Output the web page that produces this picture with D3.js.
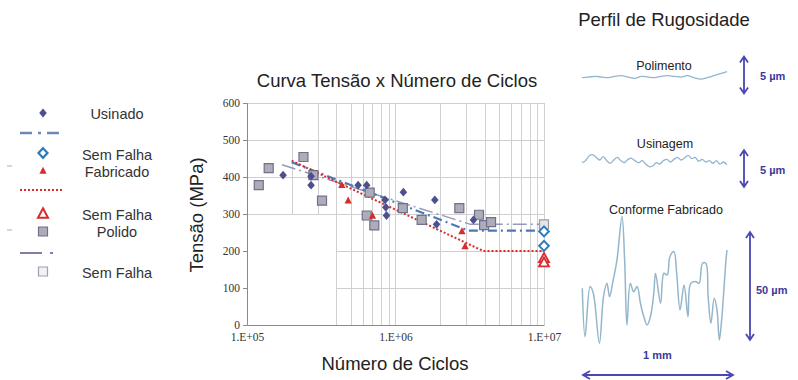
<!DOCTYPE html>
<html>
<head>
<meta charset="utf-8">
<script src="https://cdn.jsdelivr.net/npm/d3@7"></script>
<style>
  body { margin: 0; background: #fff; }
  svg { display: block; }
</style>
</head>
<body>
<svg id="fig" width="798" height="380"></svg>
<script>
// ---- S-N data (ciclos, MPa) ----
const usinadoN = [1.75e5, 2.7e5, 2.7e5, 5.6e5, 6.4e5, 8.5e5, 8.6e5, 8.7e5, 1.13e6, 1.84e6, 1.89e6, 3.35e6];
const usinadoS = [405, 402, 378, 378, 378, 338, 318, 296, 359, 338, 272, 284];

const polidoN = [1.2e5, 1.4e5, 2.4e5, 2.8e5, 3.2e5, 6.7e5, 6.4e5, 7.2e5, 1.12e6, 1.5e6, 2.69e6, 3.65e6, 3.95e6, 4.4e6];
const polidoS = [378, 424, 454, 405, 336, 358, 296, 269, 316, 284, 316, 298, 270, 278];

const fabricadoN = [4.35e5, 4.8e5, 7.0e5, 2.8e6, 2.94e6];
const fabricadoS = [378, 336, 295, 253, 212];

// run-outs (sem falha) at 1E+07
const semFalhaUsinadoN = [1e7, 1e7];
const semFalhaUsinadoS = [253, 214];
const semFalhaFabricadoN = [1e7, 1e7];
const semFalhaFabricadoS = [180, 168];
const semFalhaPolidoN = [1e7];
const semFalhaPolidoS = [272];

// fitted S-N curves with endurance plateau
const fitUsinadoN = [2.0e5, 3.1e6, 1e7];
const fitUsinadoS = [440, 255, 255];
const fitPolidoN = [1.72e5, 3.2e6, 1e7];
const fitPolidoS = [433, 272, 272];
const fitFabricadoN = [2.0e5, 3.9e6, 1e7];
const fitFabricadoS = [444, 200, 200];

const yTicks = [0, 100, 200, 300, 400, 500, 600];
const xTicks = [1e5, 1e6, 1e7];
const xTickLabels = ["1.E+05", "1.E+06", "1.E+07"];

// ---- roughness profiles ----
// Polimento / Usinagem: heights (µm) sampled evenly across 1 mm
const polimentoZ = [-0.23, -0.14, -0.05, -0.14, -0.23, -0.05, 0.04, -0.14, -0.32, -0.05, -0.14, -0.23,
                    -0.05, 0.04, -0.05, -0.14, 0.04, -0.23, -0.41, -0.23, 0.04, 0.32, 0.59];
const usinagemZ = [-0.36, -0.09, 0.54, 0.72, 0.36, 0.0, 0.45, -0.09, -0.45, 0.0, 0.36, -0.09, -0.36, 0.09,
                   0.23, -0.09, -0.36, -0.09, -0.54, -0.9, -0.81, -0.36, -0.54, -0.09, 0.09, -0.27, 0.09,
                   0.36, 0.0, 0.27, 0.63, 0.18, 0.36, -0.18, 0.09, -0.27, -0.09, -0.45, -0.09, -0.54, -0.27, -0.63];
// Conforme fabricado: position (mm) and height (µm)
const fabricadoX = [0.002, 0.021, 0.056, 0.078, 0.120, 0.148, 0.172, 0.190, 0.213, 0.241, 0.276, 0.294, 0.310,
                    0.333, 0.356, 0.380, 0.403, 0.426, 0.449, 0.472, 0.495, 0.507, 0.542, 0.565, 0.588, 0.606,
                    0.634, 0.653, 0.676, 0.704, 0.731, 0.750, 0.785, 0.808, 0.831, 0.854, 0.870, 0.889, 0.912,
                    0.931, 0.947, 0.963, 0.993, 1.0];
const fabricadoZ = [5.4, -17.0, 6.2, 3.1, -20.0, 1.5, 7.7, 1.5, 8.5, 18.5, 38.6, 18.5, -11.6,
                   7.7, 3.8, 6.2, -1.5, -7.7, -11.6, -7.7, 3.1, 12.4, -1.5, 12.4, 11.6, 20.0,
                   22.4, 12.4, -4.6, 6.9, -7.7, 7.7, 8.5, 7.7, 17.0, 17.0, 1.5, -10.8, 0.8,
                   -4.6, -18.5, -9.3, 18.5, 23.1];

const legendItems = ["Usinado", "Sem Falha", "Fabricado", "Sem Falha", "Polido", "Sem Falha"];

// ---- styles ----
const C = {
  usinado: "#4e4f8f",
  usinadoLine: "#4a7ab5",
  semFalhaUsinado: "#2b7bbd",
  fabricado: "#d92b2b",
  polidoFill: "#adadba",
  polidoStroke: "#70708a",
  polidoLine: "#7e7ea8",
  grid: "#d0d0d0",
  axis: "#8a8a8a",
  text: "#333",
  profile: "#93b6cd",
  arrow: "#4b46b4"
};
const SANS = "'Liberation Sans', Arial, sans-serif";
const SERIF = "'Liberation Serif', 'Times New Roman', serif";

const svg = d3.select("#fig");

// marker shapes
const diamondPath = (w, h) => `M0,${-h}L${w},0L0,${h}L${-w},0Z`;
const trianglePath = (w, h) => `M0,${-h * 0.6}L${w},${h * 0.4}L${-w},${h * 0.4}Z`;
const squarePath = s => `M${-s},${-s}H${s}V${s}H${-s}Z`;

// ---- chart ----
const x = d3.scaleLog().domain([1e5, 1e7]).range([247, 544]);
const y = d3.scaleLinear().domain([0, 600]).range([325, 103]);

const chart = svg.append("g");

// grid: lower-left corner (N < 4E+05, S < 300) left clear
const grid = chart.append("g").attr("stroke", C.grid).attr("stroke-width", 1);
x.ticks().filter(n => n > 1e5).forEach(n => {
  const bottom = n < 4e5 ? y(300) : y(0);
  grid.append("line")
    .attr("x1", Math.round(x(n)) + 0.5).attr("x2", Math.round(x(n)) + 0.5)
    .attr("y1", y(600)).attr("y2", bottom);
});
yTicks.filter(s => s > 0).forEach(s => {
  const left = s < 300 ? x(4e5) : x(1e5);
  grid.append("line")
    .attr("x1", left).attr("x2", x(1e7))
    .attr("y1", Math.round(y(s)) + 0.5).attr("y2", Math.round(y(s)) + 0.5);
});

// axes
const yAxis = chart.append("g")
  .attr("transform", `translate(${x(1e5)},0)`)
  .call(d3.axisLeft(y).tickValues(yTicks).tickSize(4).tickPadding(3).tickFormat(d3.format("d")));
const xAxis = chart.append("g")
  .attr("transform", `translate(0,${y(0)})`)
  .call(d3.axisBottom(x).tickValues(xTicks).tickSize(0).tickPadding(8)
    .tickFormat((d, i) => xTickLabels[i]));
[yAxis, xAxis].forEach(a => {
  a.selectAll("path, line").attr("stroke", C.axis);
  a.selectAll("text").attr("font-family", SERIF).attr("font-size", 11.5).attr("fill", C.text);
});

// fitted curves
const line = d3.line().x(d => x(d[0])).y(d => y(d[1]));
const zip = (a, b) => a.map((v, i) => [v, b[i]]);
chart.append("path").datum(zip(fitPolidoN, fitPolidoS))
  .attr("d", line).attr("fill", "none").attr("stroke", C.polidoLine)
  .attr("stroke-width", 1.5).attr("stroke-dasharray", "14,4,2,4").attr("opacity", 0.8);
chart.append("path").datum(zip(fitUsinadoN, fitUsinadoS))
  .attr("d", line).attr("fill", "none").attr("stroke", C.usinadoLine)
  .attr("stroke-width", 2.2).attr("stroke-dasharray", "9,4,2,4");
chart.append("path").datum(zip(fitFabricadoN, fitFabricadoS))
  .attr("d", line).attr("fill", "none").attr("stroke", C.fabricado)
  .attr("stroke-width", 2).attr("stroke-dasharray", "2,2");

// points
const pts = chart.append("g");
pts.selectAll(".sq").data(zip(polidoN, polidoS)).join("path")
  .attr("transform", d => `translate(${x(d[0])},${y(d[1])})`)
  .attr("d", squarePath(4.5)).attr("fill", C.polidoFill)
  .attr("stroke", C.polidoStroke).attr("stroke-width", 1.2);
pts.selectAll(".sf").data(zip(semFalhaPolidoN, semFalhaPolidoS)).join("path")
  .attr("transform", d => `translate(${x(d[0])},${y(d[1])})`)
  .attr("d", squarePath(4.5)).attr("fill", "#e4e4ea")
  .attr("stroke", "#9a9aa8").attr("stroke-width", 1.2);
pts.selectAll(".dm").data(zip(usinadoN, usinadoS)).join("path")
  .attr("transform", d => `translate(${x(d[0])},${y(d[1])})`)
  .attr("d", diamondPath(3.8, 4.4)).attr("fill", C.usinado);
pts.selectAll(".tr").data(zip(fabricadoN, fabricadoS)).join("path")
  .attr("transform", d => `translate(${x(d[0])},${y(d[1])})`)
  .attr("d", trianglePath(3.6, 7)).attr("fill", C.fabricado);
pts.selectAll(".sd").data(zip(semFalhaUsinadoN, semFalhaUsinadoS)).join("path")
  .attr("transform", d => `translate(${x(d[0])},${y(d[1])})`)
  .attr("d", diamondPath(4.8, 5)).attr("fill", "#fff")
  .attr("stroke", C.semFalhaUsinado).attr("stroke-width", 2);
pts.selectAll(".st").data(zip(semFalhaFabricadoN, semFalhaFabricadoS)).join("path")
  .attr("transform", d => `translate(${x(d[0])},${y(d[1])})`)
  .attr("d", trianglePath(5, 9)).attr("fill", "#fff")
  .attr("stroke", C.fabricado).attr("stroke-width", 1.8);

// titles
chart.append("text").attr("x", 397).attr("y", 87).attr("text-anchor", "middle")
  .attr("font-family", SANS).attr("font-size", 18.5).attr("fill", "#222")
  .text("Curva Tensão x Número de Ciclos");
chart.append("text").attr("transform", "translate(203,215) rotate(-90)")
  .attr("text-anchor", "middle").attr("font-family", SANS).attr("font-size", 18.5).attr("fill", "#222")
  .text("Tensão (MPa)");
chart.append("text").attr("x", 395).attr("y", 370).attr("text-anchor", "middle")
  .attr("font-family", SANS).attr("font-size", 18.5).attr("fill", "#222")
  .text("Número de Ciclos");

// ---- legend ----
const lg = svg.append("g");
const lx = 43;
lg.append("path").attr("transform", `translate(${lx},113)`).attr("d", diamondPath(3.8, 4.4)).attr("fill", C.usinado);
lg.append("line").attr("x1", 20).attr("x2", 63).attr("y1", 133).attr("y2", 133)
  .attr("stroke", "#7186b8").attr("stroke-width", 2.5).attr("stroke-dasharray", "12,6,3,6");
lg.append("path").attr("transform", `translate(${lx},153)`).attr("d", diamondPath(4.5, 4.8))
  .attr("fill", "#fff").attr("stroke", C.semFalhaUsinado).attr("stroke-width", 2.2);
lg.append("path").attr("transform", `translate(${lx},171)`).attr("d", trianglePath(3.6, 7)).attr("fill", C.fabricado);
lg.append("line").attr("x1", 20).attr("x2", 63).attr("y1", 190).attr("y2", 190)
  .attr("stroke", C.fabricado).attr("stroke-width", 2).attr("stroke-dasharray", "2,2");
lg.append("path").attr("transform", `translate(${lx},214)`).attr("d", trianglePath(5, 9.5))
  .attr("fill", "#fff").attr("stroke", C.fabricado).attr("stroke-width", 2);
lg.append("path").attr("transform", `translate(${lx},231.5)`).attr("d", squarePath(4.5))
  .attr("fill", C.polidoFill).attr("stroke", C.polidoStroke).attr("stroke-width", 1.2);
lg.append("line").attr("x1", 20).attr("x2", 60).attr("y1", 253).attr("y2", 253)
  .attr("stroke", C.polidoLine).attr("stroke-width", 1.8).attr("stroke-dasharray", "22,8,3,8");
lg.append("path").attr("transform", `translate(${lx},271.5)`).attr("d", squarePath(4.5))
  .attr("fill", "#f2f2f4").attr("stroke", "#a0a0ae").attr("stroke-width", 1.2);
[166, 230].forEach(yy => lg.append("line").attr("x1", 7).attr("x2", 12).attr("y1", yy).attr("y2", yy)
  .attr("stroke", "#c8c8cc").attr("stroke-width", 1.5));
const legendY = [118.5, 159.5, 176.5, 219.5, 236.5, 277.5];
lg.selectAll("text").data(legendItems).join("text")
  .attr("x", 117).attr("y", (d, i) => legendY[i]).attr("text-anchor", "middle")
  .attr("font-family", SANS).attr("font-size", 14.5).attr("fill", C.text)
  .text(d => d);

// ---- roughness profiles ----
const rp = svg.append("g");
rp.append("text").attr("x", 664).attr("y", 26).attr("text-anchor", "middle")
  .attr("font-family", SANS).attr("font-size", 18.5).attr("fill", "#222").text("Perfil de Rugosidade");

const px = d3.scaleLinear().domain([0, 1]).range([582, 727]);
const fineY = c => d3.scaleLinear().domain([-2.5, 2.5]).range([c + 18.5, c - 18.5]); // 7.4 px/µm
const polY = fineY(76);
const usiY = fineY(160);
const fabY = d3.scaleLinear().domain([-25, 25]).range([354, 246]);                    // 2.16 px/µm

const profLine = (ys) => d3.line().x(d => px(d[0])).y(d => ys(d[1])).curve(d3.curveCatmullRom.alpha(0.5));
const even = arr => arr.map((z, i) => [i / (arr.length - 1), z]);

rp.append("path").datum(even(polimentoZ)).attr("d", profLine(polY))
  .attr("fill", "none").attr("stroke", C.profile).attr("stroke-width", 1.3);
rp.append("path").datum(even(usinagemZ)).attr("d", profLine(usiY))
  .attr("fill", "none").attr("stroke", C.profile).attr("stroke-width", 1.3);
rp.append("path").datum(zip(fabricadoX, fabricadoZ)).attr("d", profLine(fabY))
  .attr("fill", "none").attr("stroke", C.profile).attr("stroke-width", 1.5);

const lbl = (t, xx, yy) => rp.append("text").attr("x", xx).attr("y", yy).attr("text-anchor", "middle")
  .attr("font-family", SANS).attr("font-size", 12.5).attr("fill", "#222").text(t);
lbl("Polimento", 664, 70);
lbl("Usinagem", 665, 148);
lbl("Conforme Fabricado", 666, 214);

// double-headed arrows
function vArrow(xx, y1, y2) {
  rp.append("path")
    .attr("d", `M${xx},${y1}V${y2}M${xx - 4},${y1 + 6}L${xx},${y1}L${xx + 4},${y1 + 6}M${xx - 4},${y2 - 6}L${xx},${y2}L${xx + 4},${y2 - 6}`)
    .attr("fill", "none").attr("stroke", C.arrow).attr("stroke-width", 1.8);
}
function hArrow(yy, x1, x2) {
  rp.append("path")
    .attr("d", `M${x1},${yy}H${x2}M${x1 + 7},${yy - 4}L${x1},${yy}L${x1 + 7},${yy + 4}M${x2 - 7},${yy - 4}L${x2},${yy}L${x2 - 7},${yy + 4}`)
    .attr("fill", "none").attr("stroke", C.arrow).attr("stroke-width", 1.8);
}
vArrow(744, polY(2.5) - 1, polY(-2.5) - 1);
vArrow(744, 150, 150 + (usiY(-2.5) - usiY(2.5)));
vArrow(750, fabY(25) - 14, fabY(-25) - 14);
hArrow(375, 583, 733);

const unit = (t, xx, yy) => rp.append("text").attr("x", xx).attr("y", yy)
  .attr("font-family", SANS).attr("font-weight", "bold").attr("font-size", 11)
  .attr("fill", "#3a3a9c").text(t);
unit("5 µm", 760, 80);
unit("5 µm", 760, 174);
unit("50 µm", 756, 294);
unit("1 mm", 643, 359);
</script>
</body>
</html>
